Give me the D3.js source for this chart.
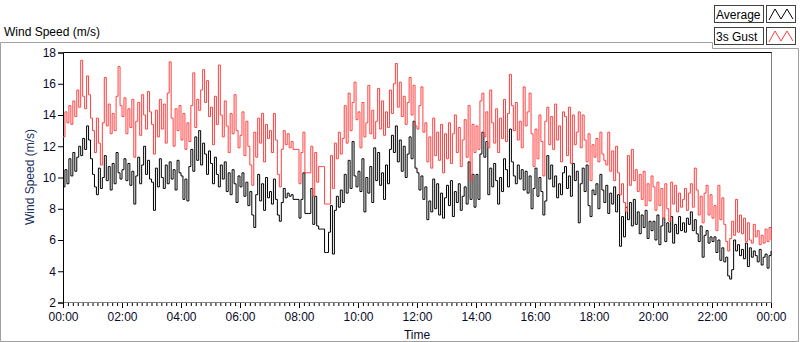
<!DOCTYPE html>
<html>
<head>
<meta charset="utf-8">
<script src="https://cdn.jsdelivr.net/npm/d3@7"></script>
<style>
  body { margin: 0; background: #fff; }
  text { font-family: "Liberation Sans", Arial, sans-serif; font-size: 12px; }
</style>
</head>
<body>
<svg id="chart" width="800" height="342"></svg>
<script>
// one value every 4 minutes, one row per hour (15 values), last value is 24:00
var stepMinutes = 4;

var averageSpeed = [
  9.4, 10.5, 9.6, 11.2, 10.1, 11.6, 10.4, 11.3, 12.0, 11.4, 12.5, 11.8, 13.3, 12.4, 11.2,
  10.2, 9.4, 8.9, 10.6, 9.3, 10.0, 11.4, 9.8, 10.7, 9.2, 10.9, 9.6, 11.6, 10.3, 9.9,
  10.5, 11.2, 9.8, 10.9, 9.5, 10.4, 8.3, 10.1, 11.3, 9.6, 10.8, 12.0, 10.2, 11.1, 9.9,
  9.7, 7.9, 10.6, 9.4, 11.2, 10.0, 9.3, 10.8, 9.6, 11.0, 9.9, 10.5, 9.2, 11.1, 10.3,
  10.1, 8.6, 9.9, 8.5, 10.7, 11.8, 10.4, 12.6, 11.1, 13.0, 10.8, 12.2, 11.5, 10.2, 11.7,
  10.9, 9.6, 11.3, 10.2, 9.4, 10.8, 9.9, 11.0, 9.1, 10.3, 8.9, 10.5, 9.6, 8.4, 10.1,
  9.4, 10.3, 8.8, 9.7, 8.2, 9.1, 7.6, 6.8, 8.9, 10.2, 8.5, 9.6, 7.9, 10.0, 8.7,
  9.1, 8.3, 9.9, 8.6, 7.6, 7.2, 8.4, 9.3, 8.7, 9.0, 8.8, 8.9, 8.6, 8.6, 8.6,
  7.4, 8.6, 10.3, 7.7, 7.7, 7.7, 9.3, 7.0, 8.8, 6.9, 6.7, 6.7, 6.7, 5.2, 5.2,
  6.5, 8.2, 5.1, 7.9, 8.8, 8.1, 9.2, 8.4, 10.2, 9.0, 11.1, 9.3, 12.3, 10.1, 9.4,
  10.4, 9.1, 11.2, 7.8, 10.0, 9.0, 10.7, 8.4, 11.9, 9.8, 11.6, 9.5, 10.3, 8.6, 10.8,
  9.6, 11.8, 12.7, 11.6, 13.3, 11.0, 12.4, 10.4, 12.0, 10.0, 11.5, 12.6, 11.2, 13.6, 10.6,
  10.3, 9.2, 10.1, 8.6, 9.4, 7.3, 8.5, 7.8, 9.9, 8.0, 9.6, 7.6, 9.0, 7.4, 8.7,
  9.5, 8.2, 9.8, 7.5, 9.1, 8.4, 9.6, 7.9, 8.8, 9.4, 8.3, 11.0, 8.6, 10.2, 8.1,
  10.2, 8.6, 11.5, 12.9, 11.3, 12.3, 8.9, 10.6, 9.4, 10.9, 9.8, 8.3, 10.0, 9.1, 11.2,
  10.5, 9.4, 13.1, 11.0, 10.1, 9.6, 10.8, 9.9, 10.5, 9.2, 10.4, 9.0, 10.1, 8.0, 9.3,
  10.6, 8.8, 10.0, 9.1, 7.6, 8.5, 11.4, 9.9, 10.8, 9.4, 10.1, 8.7, 9.6, 8.9, 10.3,
  10.7, 9.3, 10.1, 8.8, 10.9, 9.8, 10.4, 7.1, 9.6, 10.6, 9.1, 10.8, 8.2, 7.5, 9.2,
  8.9, 9.6, 8.0, 10.2, 9.2, 8.4, 9.5, 7.7, 9.0, 8.3, 9.4, 7.8, 8.9, 5.6, 7.5,
  6.2, 8.1, 7.3, 8.4, 6.9, 8.6, 7.0, 7.8, 6.4, 7.6, 6.8, 7.9, 6.1, 7.2, 6.6,
  7.2, 6.0, 7.6, 5.7, 6.9, 7.4, 5.9, 7.1, 6.5, 7.5, 5.8, 7.0, 6.4, 7.5, 6.6,
  7.1, 6.5, 7.4, 7.0, 7.8, 6.6, 7.3, 6.4, 5.9, 6.9, 4.9, 6.3, 6.6, 5.8, 6.2,
  5.9, 6.2, 5.2, 6.0, 4.7, 5.5, 4.6, 4.9, 3.7, 3.5, 4.1, 6.0, 5.3, 5.7, 5.0,
  5.4, 4.8, 5.8, 4.3, 5.5, 4.9, 5.3, 5.0, 4.6, 5.4, 4.4, 4.9, 5.1, 4.2, 5.0,
  5.3
];

var gustSpeed = [
  12.6, 14.2, 13.5, 14.6, 13.4, 14.9, 13.9, 15.6, 14.5, 17.5, 15.2, 14.4, 16.5, 15.3, 13.8,
  13.0, 11.6, 13.8, 12.2, 10.8, 13.5, 16.4, 13.3, 14.7, 12.8, 14.1, 13.0, 15.2, 17.1, 14.6,
  13.9, 15.1, 12.8, 14.4, 13.2, 15.0, 11.3, 13.6, 14.8, 12.7, 15.3, 14.0, 13.1, 15.5, 14.2,
  13.4, 11.5, 14.3, 12.6, 15.0, 13.1, 14.7, 12.2, 15.4, 17.4, 13.8, 12.0, 14.4, 13.0, 14.6,
  12.4, 14.1, 11.8, 13.5, 12.3, 14.6, 16.7, 13.2, 15.0, 14.3, 15.6, 16.9, 14.8, 16.2, 13.9,
  14.5, 12.1, 15.2, 13.4, 17.2, 14.0, 12.6, 14.9, 13.3, 11.6, 14.1, 12.8, 15.3, 13.0, 11.9,
  12.7, 14.2, 11.4, 13.6, 12.0, 10.8, 9.5, 12.9, 11.3, 13.8, 12.2, 14.1, 11.0, 13.4, 12.5,
  13.0, 11.6, 14.1, 12.4, 10.2, 9.4, 11.8, 13.0, 12.1, 12.8, 11.9, 12.3, 11.8, 11.8, 11.8,
  9.6, 11.6, 12.9, 10.3, 10.3, 10.3, 12.0, 8.8, 11.6, 9.7, 10.7, 10.7, 10.7, 8.3, 8.3,
  8.3, 11.4, 9.3, 12.2, 11.2, 12.9, 11.5, 12.5, 14.6, 12.2, 15.4, 13.0, 14.8, 16.1, 13.7,
  14.2, 11.9, 14.8, 12.6, 13.5, 15.9, 12.8, 14.3, 12.5, 13.6, 15.7, 13.1, 14.9, 12.7, 14.2,
  13.2, 15.6, 14.1, 16.0, 17.3, 14.5, 16.1, 13.9, 15.2, 13.4, 14.8, 16.4, 14.0, 15.9, 13.3,
  13.1, 14.6, 15.8, 12.9, 13.5, 11.0, 12.6, 10.6, 13.8, 11.4, 12.9, 11.1, 13.4, 10.3, 12.8,
  11.2, 13.5, 10.9, 12.8, 14.0, 11.6, 13.2, 10.7, 12.4, 13.7, 11.3, 14.6, 9.8, 13.4, 11.6,
  13.3, 11.8, 14.9, 15.4, 12.6, 14.2, 11.9, 15.6, 13.5, 12.2, 14.4, 11.6, 13.8, 12.5, 15.0,
  12.3, 14.1, 16.6, 14.6, 13.0, 14.8, 12.4, 13.6, 11.9, 15.8, 13.3, 14.2, 15.4, 12.8, 10.7,
  13.1, 11.2, 14.0, 12.3, 10.1, 13.6, 14.5, 12.1, 13.9, 11.8, 14.7, 12.4, 13.3, 11.0, 14.2,
  13.9, 11.4, 14.5, 10.9, 14.0, 12.1, 12.9, 14.2, 11.9, 14.0, 12.4, 11.0, 12.8, 9.8, 12.1,
  11.3, 12.5, 11.0, 12.9, 11.5, 11.1, 10.8, 12.9, 10.4, 11.7, 9.8, 12.0, 10.3, 8.9, 9.6,
  8.4, 7.8, 11.4, 9.5, 11.8, 9.8, 10.5, 9.1, 10.2, 8.6, 10.4, 8.2, 9.6, 8.5, 10.1,
  9.4, 7.9, 9.7, 8.2, 9.3, 7.4, 9.6, 8.0, 7.2, 9.7, 8.3, 9.5, 7.8, 9.0, 8.1,
  8.6, 9.3, 7.9, 9.0, 9.6, 8.1, 10.6, 9.2, 7.6, 8.8, 7.1, 9.0, 9.5, 7.6, 8.9,
  7.4, 8.2, 6.6, 9.5, 7.3, 8.7, 7.0, 5.9, 5.3, 6.1, 7.2, 6.3, 8.6, 6.5, 7.6,
  6.4, 7.4, 5.9, 7.1, 6.0, 5.8, 7.0, 6.2, 6.6, 5.7, 6.3, 5.8, 6.7, 5.9, 6.8,
  6.0
];

var yTicks = [2, 4, 6, 8, 10, 12, 14, 16, 18];
var xTickMinutes = [0, 120, 240, 360, 480, 600, 720, 840, 960, 1080, 1200, 1320, 1440];
var xTickLabels = ["00:00", "02:00", "04:00", "06:00", "08:00", "10:00", "12:00",
                   "14:00", "16:00", "18:00", "20:00", "22:00", "00:00"];
var seriesNames = ["Average", "3s Gust"];
var seriesColors = ["#000000", "#ff4040"];

var svg = d3.select("#chart");

var x = d3.scaleLinear().domain([0, 1440]).range([63, 771]);
var y = d3.scaleLinear().domain([2, 18]).range([302.5, 52.5]);

// outer frame of the graph control
var frame = svg.append("g").attr("fill", "none").attr("stroke", "#a0a0a0");
frame.append("path").attr("d", "M0.5,341.5 V42.5 H712.5 V48.5 H798.5 V341.5 Z");

// title
svg.append("text").attr("x", 4).attr("y", 36).attr("fill", "#000").text("Wind Speed (m/s)");

// plot area
svg.append("rect").attr("x", 63.5).attr("y", 52.5).attr("width", 708).attr("height", 250)
  .attr("fill", "#fff").attr("stroke", "#808080");
svg.append("line").attr("x1", 63.5).attr("x2", 771.5).attr("y1", 52.5).attr("y2", 52.5)
  .attr("stroke", "#000");

// minor x ticks every 10 minutes
svg.append("g").attr("transform", "translate(0,303)")
  .call(d3.axisBottom(x).tickValues(d3.range(0, 1441, 10)).tickSize(3).tickFormat(""))
  .call(function(g) { g.select(".domain").remove(); });

var xAxis = svg.append("g").attr("transform", "translate(0,303)")
  .call(d3.axisBottom(x).tickValues(xTickMinutes).tickSize(5).tickPadding(4)
    .tickFormat(function(d, i) { return xTickLabels[i]; }));
xAxis.select(".domain").remove();
xAxis.selectAll("text").attr("fill", "#0a0a28").style("font-size", "12px");

var yAxis = svg.append("g").attr("transform", "translate(63,0)")
  .call(d3.axisLeft(y).tickValues(yTicks).tickSize(5).tickPadding(2));
yAxis.select(".domain").attr("stroke", "#000");
yAxis.selectAll("text").attr("fill", "#0a0a28").style("font-size", "12px");

svg.append("text").attr("x", 417).attr("y", 339).attr("text-anchor", "middle")
  .attr("fill", "#0a0a28").text("Time");
svg.append("text").attr("transform", "translate(34,177) rotate(-90)")
  .attr("text-anchor", "middle").attr("fill", "#1a3060").text("Wind Speed (m/s)");

// series, drawn as steps so the trace reads as dense vertical strokes
var line = d3.line()
  .x(function(d, i) { return x(i * stepMinutes); })
  .y(function(d) { return y(d); })
  .curve(d3.curveStepAfter);

var plot = svg.append("g");
[averageSpeed, gustSpeed].forEach(function(values, k) {
  plot.append("path").datum(values)
    .attr("fill", "none")
    .attr("stroke", seriesColors[k])
    .attr("stroke-width", 1)
    .attr("d", line);
});

// legend
var legend = svg.append("g");
seriesNames.forEach(function(name, k) {
  var top = 5 + k * 22;
  legend.append("rect").attr("x", 714.5).attr("y", top + 0.5).attr("width", 49).attr("height", 17)
    .attr("fill", "#fff").attr("stroke", "#404040");
  legend.append("text").attr("x", 716).attr("y", top + 14).attr("fill", "#000").text(name);
  legend.append("rect").attr("x", 766.5).attr("y", top + 0.5).attr("width", 29).attr("height", 17)
    .attr("fill", "#fff").attr("stroke", "#404040");
  legend.append("path")
    .attr("d", "M769," + (top + 15) + " L775," + (top + 4) + " L781," + (top + 14) + " L787," + (top + 4) + " L793," + (top + 14))
    .attr("fill", "none").attr("stroke", seriesColors[k]).attr("stroke-width", 1);
});
</script>
</body>
</html>
